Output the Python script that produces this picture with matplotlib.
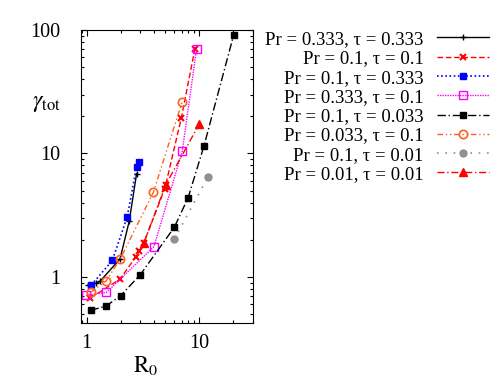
import numpy as np
import matplotlib
matplotlib.use("Agg")
import matplotlib.pyplot as plt
from matplotlib.ticker import FixedLocator, FixedFormatter, NullFormatter, LogLocator

plt.rcParams['font.family'] = ['Liberation Serif', 'DejaVu Serif']
plt.rcParams['mathtext.fontset'] = 'stix'

# --- data ---
labels = ["Pr = 0.333, \u03c4 = 0.333", "Pr = 0.1, \u03c4 = 0.1", "Pr = 0.1, \u03c4 = 0.333",
          "Pr = 0.333, \u03c4 = 0.1", "Pr = 0.1, \u03c4 = 0.033", "Pr = 0.033, \u03c4 = 0.1",
          "Pr = 0.1, \u03c4 = 0.01", "Pr = 0.01, \u03c4 = 0.01"]

r0_a = [1.03, 1.22, 1.31, 1.98, 2.39, 2.78]
g_a = [0.86, 0.89, 0.92, 1.40, 2.83, 6.88]

r0_b = [1.08, 1.98, 2.74, 2.93, 3.23, 4.95, 5.05, 6.95, 9.16]
g_b = [0.675, 0.96, 1.46, 1.63, 1.90, 5.2, 5.6, 19.5, 70.0]

r0_c = [1.10, 1.69, 2.29, 2.78, 2.90]
g_c = [0.86, 1.36, 3.06, 7.8, 8.56]

r0_d = [0.99, 1.50, 3.96, 7.07, 9.48]
g_d = [0.71, 0.75, 1.76, 10.4, 70.0]

r0_e = [1.085, 1.50, 2.0, 2.99, 6.02, 7.98, 11.0, 20.3]
g_e = [0.536, 0.584, 0.705, 1.04, 2.53, 4.39, 11.4, 91.6]

r0_f = [1.085, 1.49, 1.99, 3.92, 7.06]
g_f = [0.75, 0.93, 1.40, 4.85, 26.3]

r0_g = [6.0, 12.0]
g_g = [2.02, 6.46]

r0_h = [3.23, 5.05, 10.0]
g_h = [1.90, 5.6, 17.2]

fig = plt.figure(figsize=(4.99, 3.92), dpi=100)
ax = fig.add_axes([0.1617, 0.176, 0.345, 0.7475])

ax.plot(r0_a, g_a, color='black', ls='-', lw=1, marker='+', ms=5, mew=1, label=labels[0])
ax.plot(r0_b, g_b, color='red', ls=(0, (4, 2)), lw=1, marker='x', ms=5, mew=1.5, label=labels[1])
ax.plot(r0_c, g_c, color='blue', ls=(0, (1, 1.5)), lw=1.2, marker='s', ms=4.5, label=labels[2])
ax.plot(r0_d, g_d, color='#ff00ff', ls=(0, (1, 0.8)), lw=1, marker='s', ms=5.5, mfc='none', mew=1, label=labels[3])
ax.plot(r0_e, g_e, color='black', ls=(0, (6, 2, 1, 2)), lw=1, marker='s', ms=4.5, label=labels[4])
ax.plot(r0_f, g_f, color='#ff6020', ls=(0, (4, 2, 1, 2, 1, 2)), lw=1, marker='o', ms=6, mfc='none', mew=1.2, label=labels[5])
ax.plot(r0_g, g_g, color='#909090', ls=(0, (1, 4)), lw=1.2, marker='o', ms=5, label=labels[6])
ax.plot(r0_h, g_h, color='red', ls=(0, (5, 2, 1, 2)), lw=1, marker='^', ms=6, label=labels[7])

ax.set_xscale('log')
ax.set_yscale('log')
ax.set_xlim(0.885, 30)
ax.set_ylim(0.424, 100)

ax.xaxis.set_major_locator(FixedLocator([1, 10]))
ax.xaxis.set_major_formatter(FixedFormatter(["1", "10"]))
ax.xaxis.set_minor_locator(LogLocator(base=10, subs=np.arange(2, 10)))
ax.xaxis.set_minor_formatter(NullFormatter())
ax.yaxis.set_major_locator(FixedLocator([1, 10, 100]))
ax.yaxis.set_major_formatter(FixedFormatter(["1", "10", "100"]))
ax.yaxis.set_minor_locator(LogLocator(base=10, subs=np.arange(2, 10)))
ax.yaxis.set_minor_formatter(NullFormatter())

ax.tick_params(which='both', direction='in', top=True, right=True, labelsize=14.5)
ax.tick_params(which='major', length=4.5, width=0.8)
ax.tick_params(which='minor', length=2.5, width=0.8)
ax.tick_params(axis='x', pad=8)
ax.tick_params(axis='y', pad=15)

fig.text(0.093, 0.737, r'$\gamma_{\rm tot}$', fontsize=17, ha='center', va='center')
fig.text(0.292, 0.066, r'$\rm R_0$', fontsize=16.5, ha='center', va='center')

fig.legend(loc='upper right', bbox_to_anchor=(0.999, 0.945), frameon=False,
           markerfirst=False, fontsize=13.5, handlelength=2.8, handletextpad=0.7,
           labelspacing=0.115, borderpad=0, numpoints=1)

fig.savefig("out.png", dpi=100)
